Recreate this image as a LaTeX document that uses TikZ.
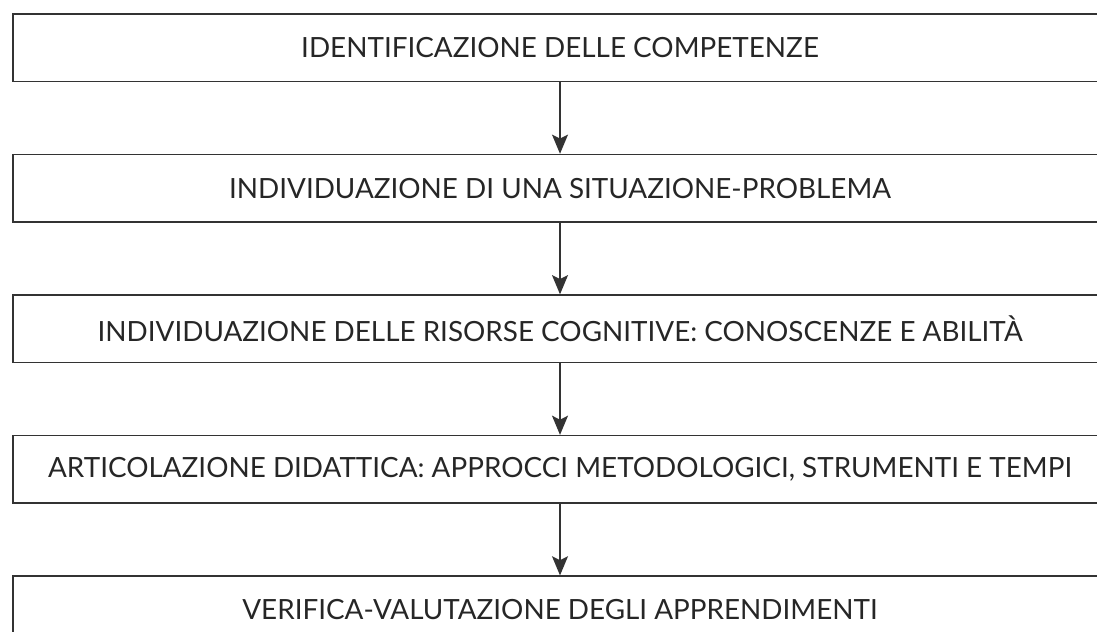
\documentclass[tikz,border=0pt]{standalone}
\usepackage{fontspec}
\setmainfont{Lato}
\usetikzlibrary{arrows.meta, positioning}
\definecolor{linegray}{HTML}{333333}
\tikzset{%
	stepbox/.style={draw=linegray, rectangle, line width=1.1pt, minimum width=27.35cm,%
		minimum height=1.6875cm, inner sep=0mm, text=black!85, font=\fontsize{19.8}{22}\selectfont},
	flow/.style={draw=linegray, line width=1.1pt, -{Stealth[length=4.8mm, width=4mm, inset=1mm]}}
}

\begin{document}
\begin{tikzpicture}[node distance=1.7875cm]
	\useasboundingbox (0,0) rectangle (27.425,-15.8);
	\clip (0,0) rectangle (27.425,-15.8);
	\node[stepbox] (comp) at (14,-1.194) {IDENTIFICAZIONE DELLE COMPETENZE};
	\node[stepbox, below=of comp] (sit) {INDIVIDUAZIONE DI UNA SITUAZIONE-PROBLEMA};
	\node[stepbox, below=of sit] (ris) {INDIVIDUAZIONE DELLE RISORSE COGNITIVE: CONOSCENZE E ABILITÀ};
	\node[stepbox, below=of ris] (art) {ARTICOLAZIONE DIDATTICA: APPROCCI METODOLOGICI, STRUMENTI E TEMPI};
	\node[stepbox, below=of art] (ver) {VERIFICA-VALUTAZIONE DEGLI APPRENDIMENTI};

	\draw[flow] (comp) to (sit);
	\draw[flow] (sit) to (ris);
	\draw[flow] (ris) to (art);
	\draw[flow] (art) to (ver);
\end{tikzpicture}
\end{document}
